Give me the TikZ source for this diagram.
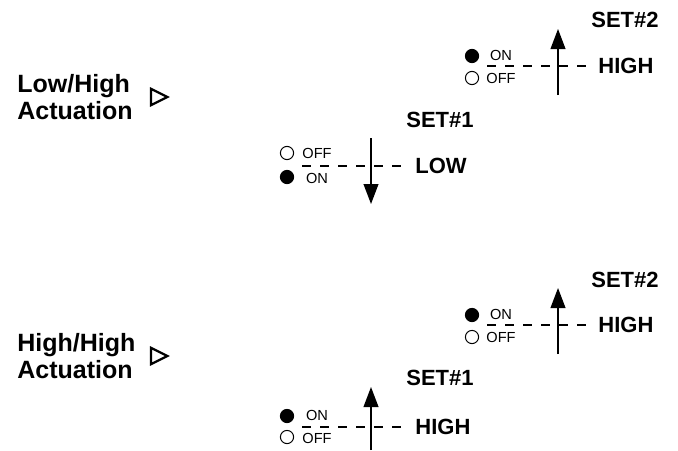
\documentclass[tikz,border=0pt]{standalone}
\usepackage{fontspec}
\setmainfont{Liberation Sans}
\usepackage{tikz}
\usetikzlibrary{arrows.meta,shapes.geometric}

\tikzset{
  modetext/.style={font=\fontsize{12.5}{13.5}\selectfont\bfseries, align=left, anchor=west, inner sep=0pt},
  leveltext/.style={font=\fontsize{11}{13}\selectfont\bfseries, anchor=west, inner sep=0pt},
  settext/.style={font=\fontsize{11}{13}\selectfont\bfseries, inner sep=0pt},
  swtext/.style={font=\fontsize{7.3}{8}\selectfont, inner sep=0pt},
  dotfull/.style={circle, draw, fill=black, line width=0.5pt, minimum size=6.6pt, inner sep=0pt},
  dotopen/.style={circle, draw, fill=white, line width=0.5pt, minimum size=6.6pt, inner sep=0pt},
  levelline/.style={dash pattern=on 4.3pt off 4.7pt, line width=0.7pt},
  dirarrow/.style={-{Triangle[length=10pt,width=7.4pt]}, line width=0.75pt},
  pointer/.style={isosceles triangle, isosceles triangle stretches, draw, line width=1.1pt,
    minimum width=8.2pt, minimum height=8.2pt, inner sep=0pt}
}

\begin{document}
\begin{tikzpicture}[x=0.5pt,y=-0.5pt]
\useasboundingbox (0,0) rectangle (678,450);

% Low/High
\node[modetext] (mode1) at (17,97) {Low/High\\Actuation};
\node[pointer] (ptr1) at (156,97) {};

\node[settext] (set2a) at (625,20) {SET\#2};
\node[dotfull] (on2a) at (472,56) {};
\node[dotopen] (off2a) at (472,78) {};
\node[swtext] (on2at) at (501,55) {ON};
\node[swtext] (off2at) at (501,78) {OFF};
\node[leveltext] (high2a) at (598,66) {HIGH};
\coordinate (lv2a) at (487,66);
\draw[levelline] (lv2a) -- ([xshift=-5pt]high2a.west);
\coordinate (ar2as) at (558,95);
\coordinate (ar2ae) at (558,29);
\draw[dirarrow] (ar2as) -- (ar2ae);

\node[settext] (set1a) at (440,120) {SET\#1};
\node[dotopen] (off1a) at (287,153) {};
\node[dotfull] (on1a) at (287,177) {};
\node[swtext] (off1at) at (317,153) {OFF};
\node[swtext] (on1at) at (317,178) {ON};
\node[leveltext] (low1a) at (415,166) {LOW};
\coordinate (lv1a) at (302,166);
\draw[levelline] (lv1a) -- ([xshift=-6pt]low1a.west);
\coordinate (ar1as) at (371,138);
\coordinate (ar1ae) at (371,204);
\draw[dirarrow] (ar1as) -- (ar1ae);

% High/High
\node[modetext] (mode2) at (17,356) {High/High\\Actuation};
\node[pointer] (ptr2) at (156,356) {};

\node[settext] (set2b) at (625,280) {SET\#2};
\node[dotfull] (on2b) at (472,315) {};
\node[dotopen] (off2b) at (472,337) {};
\node[swtext] (on2bt) at (501,314) {ON};
\node[swtext] (off2bt) at (501,337) {OFF};
\node[leveltext] (high2b) at (598,325) {HIGH};
\coordinate (lv2b) at (487,325);
\draw[levelline] (lv2b) -- ([xshift=-5pt]high2b.west);
\coordinate (ar2bs) at (558,354);
\coordinate (ar2be) at (558,288);
\draw[dirarrow] (ar2bs) -- (ar2be);

\node[settext] (set1b) at (440,378) {SET\#1};
\node[dotfull] (on1b) at (287,416) {};
\node[dotopen] (off1b) at (287,437) {};
\node[swtext] (on1bt) at (317,415) {ON};
\node[swtext] (off1bt) at (317,438) {OFF};
\node[leveltext] (high1b) at (415,427) {HIGH};
\coordinate (lv1b) at (302,427);
\draw[levelline] (lv1b) -- ([xshift=-6pt]high1b.west);
\coordinate (ar1bs) at (371,450);
\coordinate (ar1be) at (371,387);
\draw[dirarrow] (ar1bs) -- (ar1be);
\end{tikzpicture}
\end{document}
